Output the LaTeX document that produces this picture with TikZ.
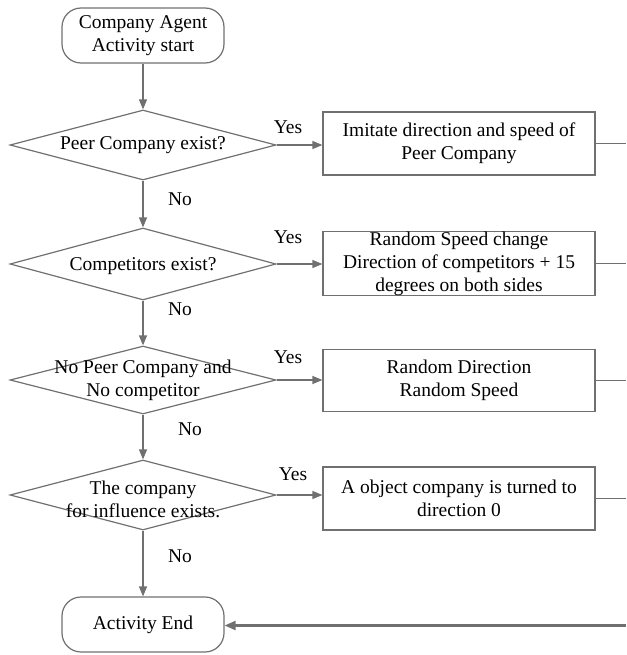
\documentclass[tikz,border=0pt]{standalone}
\usepackage{fontspec}
\setmainfont{Liberation Serif}
\usetikzlibrary{shapes.geometric,arrows.meta}
\definecolor{linegray}{HTML}{707070}
\tikzset{
  every node/.style={font=\fontsize{19.5}{23}\selectfont, text=black},
  terminal/.style={draw=linegray, line width=1.2pt, rounded corners=19pt,
    minimum width=162pt, minimum height=55pt, align=center, inner sep=0pt},
  decision/.style={draw=linegray, line width=1.2pt, diamond, inner sep=0pt,
    minimum width=266pt, minimum height=70pt},
  process/.style={draw=linegray, line width=1.2pt, minimum width=272pt,
    minimum height=63pt, align=center, inner sep=0pt},
  flow/.style={draw=linegray, line width=1.2pt,
    -{Triangle[length=10pt,width=8pt]}},
  link/.style={draw=linegray, line width=1.1pt},
  returnflow/.style={draw=linegray, line width=2.2pt,
    -{Triangle[length=11pt,width=9pt]}},
  caption/.style={align=center, inner sep=0pt}
}
\begin{document}
\begin{tikzpicture}[x=1pt, y=-1pt]
\useasboundingbox (0,0) rectangle (626,655);

% terminals
\node[terminal] (start) at (143,35.5) {Company Agent\\Activity start};
\node[terminal] (stop) at (143,624.5) {Activity End};

% decisions (outline only, text set separately so it may cross the edges)
\node[decision, minimum height=70pt] (d1) at (143,145) {};
\node[decision, minimum height=72pt] (d2) at (143,264) {};
\node[decision, minimum height=68pt] (d3) at (143,380) {};
\node[decision, minimum height=70pt] (d4) at (143,495) {};

\node[caption] (t1) at (143,145) {Peer Company exist?};
\node[caption] (t2) at (143,266) {Competitors exist?};
\node[caption] (t3) at (143,380.5) {No Peer Company and\\No competitor};
\node[caption] (t4) at (143,499) {The company\\for influence exists.};

% actions
\node[process] (b1) at (459,143.5) {Imitate direction and speed of\\Peer Company};
\node[process, minimum height=63pt] (b2) at (459,263.5) {Random Speed change\\Direction of competitors + 15\\degrees on both sides};
\node[process, minimum height=62pt] (b3) at (459,380.5) {Random Direction\\Random Speed};
\node[process] (b4) at (459,498.5) {A object company is turned to\\direction 0};

% right-hand collecting line
\coordinate (r1) at (626,143.5);
\coordinate (r2) at (626,263.5);
\coordinate (r3) at (626,380.5);
\coordinate (r4) at (626,498.5);
\coordinate (rb) at (626,625.5);

% main flow
\draw[flow] (start) -- (d1);
\draw[flow] (d1) -- (d2);
\draw[flow] (d2) -- (d3);
\draw[flow] (d3) -- (d4);
\draw[flow] (d4) -- (stop);

% yes branches
\draw[flow] (d1.east) -- (d1.east -| b1.west);
\draw[flow] (d2.east) -- (d2.east -| b2.west);
\draw[flow] (d3.east) -- (d3.east -| b3.west);
\draw[flow] (d4.east) -- (d4.east -| b4.west);

\draw[link] (b1.east) -- (r1);
\draw[link] (b2.east) -- (r2);
\draw[link] (b3.east) -- (r3);
\draw[link] (b4.east) -- (r4);
\draw[returnflow] (rb) -- (stop.east |- rb);

% branch labels
\node[caption] (y1) at (288,127) {Yes};
\node[caption] (y2) at (288,237) {Yes};
\node[caption] (y3) at (288,357) {Yes};
\node[caption] (y4) at (293,474) {Yes};
\node[caption] (n1) at (180,199) {No};
\node[caption] (n2) at (180,309) {No};
\node[caption] (n3) at (190,429) {No};
\node[caption] (n4) at (180,556) {No};
\end{tikzpicture}
\end{document}
